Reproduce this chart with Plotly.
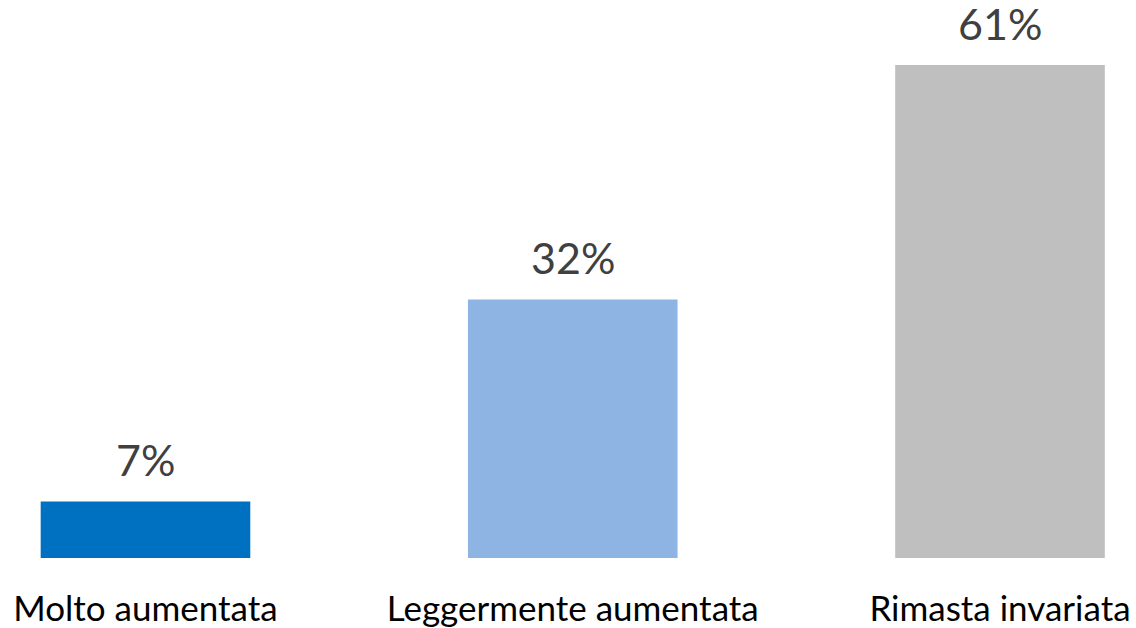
import plotly.graph_objects as go

categories = ["Molto aumentata", "Leggermente aumentata", "Rimasta invariata"]
values = [7, 32, 61]
colors = ["#0070C0", "#8EB4E3", "#BFBFBF"]

W, H = 1136, 628
FONT = "Lato"

fig = go.Figure()
fig.add_trace(go.Bar(
    x=list(range(len(categories))),
    y=values,
    width=0.4906,
    marker=dict(color=colors, line=dict(width=0)),
    hoverinfo="skip",
))

for i, v in enumerate(values):
    fig.add_annotation(
        x=i, y=v, xref="x", yref="y",
        text=f"{v}%", showarrow=False,
        yanchor="bottom", yshift=14,
        font=dict(family=FONT, size=43, color="#404040"),
    )

fig.update_layout(
    width=W, height=H,
    margin=dict(l=0, r=0, t=0, b=70, autoexpand=False),
    paper_bgcolor="white", plot_bgcolor="white",
    showlegend=False,
    xaxis=dict(
        range=[-0.3405, 2.3183],
        tickmode="array",
        tickvals=list(range(len(categories))),
        ticktext=categories,
        ticks="outside", ticklen=20, tickcolor="rgba(0,0,0,0)",
        tickfont=dict(family=FONT, size=35, color="#000000"),
        showgrid=False, zeroline=False, showline=False,
        automargin=False,
    ),
    yaxis=dict(
        range=[0, 69.06],
        visible=False, showgrid=False, zeroline=False,
        automargin=False,
    ),
)

fig.write_html(
    "out.html",
    config={"displayModeBar": False},
    post_script="document.body.style.margin='0';document.body.style.overflow='hidden';",
)
